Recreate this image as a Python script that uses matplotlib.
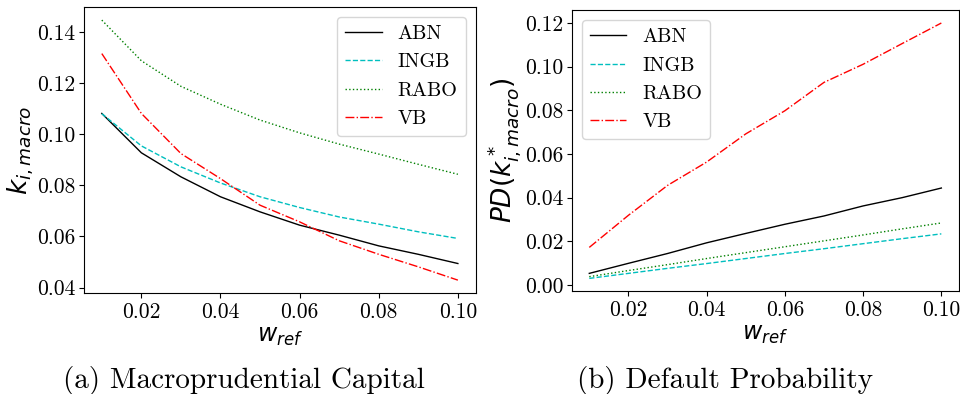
import matplotlib
matplotlib.use("Agg")
import matplotlib.pyplot as plt

# reference weight grid
w_ref = [0.01, 0.02, 0.03, 0.04, 0.05, 0.06, 0.07, 0.08, 0.09, 0.10]
banks = ["ABN", "INGB", "RABO", "VB"]

# (a) macroprudential capital k_{i,macro}
k_abn = [0.1081, 0.0927, 0.0833, 0.0755, 0.0696, 0.0644, 0.0605, 0.0563, 0.0530, 0.0494]
k_ingb = [0.1080, 0.0954, 0.0872, 0.0809, 0.0755, 0.0713, 0.0676, 0.0648, 0.0618, 0.0592]
k_rabo = [0.1446, 0.1287, 0.1187, 0.1117, 0.1055, 0.1005, 0.0961, 0.0922, 0.0882, 0.0843]
k_vb = [0.1315, 0.1081, 0.0924, 0.0826, 0.0722, 0.0657, 0.0583, 0.0530, 0.0481, 0.0429]

# (b) default probability PD(k*)
pd_abn = [0.0053, 0.0099, 0.0144, 0.0193, 0.0236, 0.0278, 0.0316, 0.0362, 0.0400, 0.0444]
pd_ingb = [0.0030, 0.0053, 0.0076, 0.0098, 0.0121, 0.0144, 0.0166, 0.0189, 0.0212, 0.0234]
pd_rabo = [0.0038, 0.0066, 0.0093, 0.0121, 0.0148, 0.0175, 0.0202, 0.0229, 0.0257, 0.0284]
pd_vb = [0.0172, 0.0319, 0.0456, 0.0563, 0.0692, 0.0798, 0.0928, 0.1011, 0.1106, 0.1200]

k_yticks = [0.04, 0.06, 0.08, 0.10, 0.12, 0.14]
pd_yticks = [0.0, 0.02, 0.04, 0.06, 0.08, 0.10, 0.12]
xticks = [0.02, 0.04, 0.06, 0.08, 0.10]

styles = [("k", "-"), ("c", "--"), ("g", ":"), ("r", "-.")]
SERIF = "cmr10"
TICK_FS = 15.5

fig = plt.figure(figsize=(9.6, 3.94), dpi=100)
fig.patch.set_facecolor("white")
ax1 = fig.add_axes([0.0875, 0.256, 0.408, 0.726])
ax2 = fig.add_axes([0.5955, 0.261, 0.4034, 0.713])


def draw(ax, series, yticks, ylabel, loc):
    for name, ys, (c, ls) in zip(banks, series, styles):
        ax.plot(w_ref, ys, color=c, linestyle=ls, lw=1.0, label=name)
    ax.set_xticks(xticks)
    ax.set_xticklabels([f"{t:.2f}" for t in xticks], fontfamily=SERIF, fontsize=TICK_FS)
    ax.set_yticks(yticks)
    ax.set_yticklabels([f"{t:.2f}" for t in yticks], fontfamily=SERIF, fontsize=TICK_FS)
    ax.tick_params(axis="y", pad=2.5)
    ax.set_xlabel(r"$w_{ref}$", fontsize=17, labelpad=1)
    ax.set_ylabel(ylabel, fontsize=19, labelpad=1)
    ax.legend(loc=loc, prop={"family": SERIF, "size": 14.5}, handlelength=1.8,
              labelspacing=0.5)


draw(ax1, [k_abn, k_ingb, k_rabo, k_vb], k_yticks, r"$k_{i,macro}$", "upper right")
draw(ax2, [pd_abn, pd_ingb, pd_rabo, pd_vb], pd_yticks, r"$PD(k^*_{i,macro})$", "upper left")

fig.text(0.254, 0.015, "(a) Macroprudential Capital", ha="center", fontfamily=SERIF, fontsize=21)
fig.text(0.755, 0.015, "(b) Default Probability", ha="center", fontfamily=SERIF, fontsize=21)

fig.savefig("out.png", dpi=100)
